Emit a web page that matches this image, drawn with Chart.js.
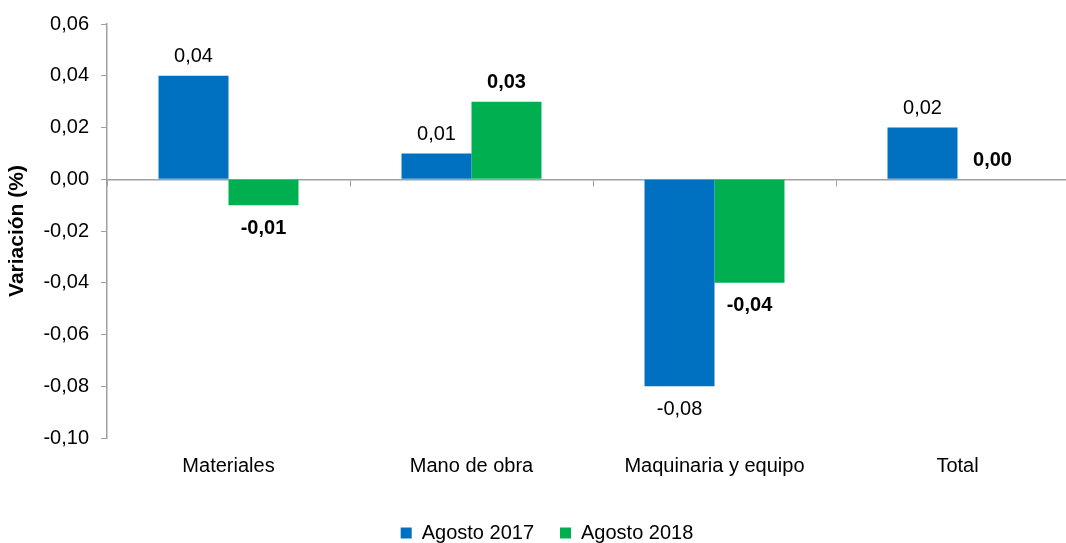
<!DOCTYPE html>
<html>
<head>
<meta charset="utf-8">
<script src="https://cdn.jsdelivr.net/npm/chart.js@4/dist/chart.umd.min.js"></script>
<style>
  html, body { margin: 0; padding: 0; background: #fff; overflow: hidden; }
  #wrap { width: 1094px; height: 553px; }
</style>
</head>
<body>
<div id="wrap"><canvas id="variacionChart"></canvas></div>
<script>
// datos
var categorias = ["Materiales", "Mano de obra", "Maquinaria y equipo", "Total"];
var agosto2017 = [0.04, 0.01, -0.08, 0.02];
var agosto2018 = [-0.01, 0.03, -0.04, 0.00];
var ejeY = { min: -0.10, max: 0.06, paso: 0.02 };

var FONT = "'Liberation Sans', Arial, sans-serif";
var GRIS = "#a0a0a0";

function fmt(v) {
  return v.toFixed(2).replace(".", ",");
}

// etiquetas de valor sobre / bajo cada barra
var etiquetas = {
  id: "etiquetas",
  afterDatasetsDraw: function (chart) {
    let ctx = chart.ctx;
    chart.data.datasets.forEach(function (ds, i) {
      let meta = chart.getDatasetMeta(i);
      ctx.save();
      ctx.font = (i == 1 ? "bold " : "") + "20px " + FONT;
      ctx.fillStyle = "#000";
      ctx.textAlign = "center";
      meta.data.forEach(function (bar, j) {
        let v = ds.data[j];
        if (v >= 0) {
          ctx.textBaseline = "bottom";
          ctx.fillText(fmt(v), bar.x, bar.y - 9);
        } else {
          ctx.textBaseline = "top";
          ctx.fillText(fmt(v), bar.x, bar.y + 13);
        }
      });
      ctx.restore();
    });
  }
};

var chart = new Chart(document.getElementById("variacionChart").getContext("2d"), {
  type: "bar",
  data: {
    labels: categorias,
    datasets: [{
      label: "Agosto 2017",
      data: agosto2017,
      backgroundColor: "#0070C0",
      borderColor: "#0070C0",
      xAxisID: "x"
    }, {
      label: "Agosto 2018",
      data: agosto2018,
      backgroundColor: "#00B050",
      borderColor: "#00B050",
      xAxisID: "x"
    }]
  },
  options: {
    responsive: true,
    maintainAspectRatio: false,
    animation: false,
    datasets: {
      bar: { categoryPercentage: 0.576, barPercentage: 1.0 }
    },
    layout: { padding: { top: 17, right: 15, left: 15, bottom: 0 } },
    plugins: {
      legend: {
        position: "bottom",
        labels: {
          boxWidth: 11,
          boxHeight: 11,
          padding: 26,
          color: "#000",
          font: { family: FONT, size: 20 }
        }
      },
      tooltip: { enabled: false }
    },
    scales: {
      x: {
        type: "category",
        position: { y: 0 },
        ticks: { display: false },
        grid: {
          offset: true,
          drawOnChartArea: false,
          drawTicks: true,
          tickLength: 6,
          color: GRIS
        },
        border: { color: GRIS, width: 1.5 }
      },
      x2: {
        type: "category",
        labels: categorias,
        position: "bottom",
        offset: true,
        grid: { display: false },
        border: { display: false },
        ticks: {
          color: "#000",
          padding: 8,
          font: { family: FONT, size: 20 }
        },
        afterFit: function (scale) { scale.height = 59; }
      },
      y: {
        min: ejeY.min,
        max: ejeY.max,
        ticks: {
          stepSize: ejeY.paso,
          color: "#000",
          padding: 12,
          font: { family: FONT, size: 20 },
          callback: function (v) { return fmt(v); }
        },
        grid: {
          drawOnChartArea: false,
          drawTicks: true,
          tickLength: 6,
          color: GRIS
        },
        border: { color: GRIS, width: 1.5 },
        title: {
          display: true,
          text: "Variación (%)",
          color: "#000",
          font: { family: FONT, size: 21, weight: "bold" },
          padding: { top: -10, bottom: 0 }
        },
        afterFit: function (scale) { scale.width = 92; }
      }
    }
  },
  plugins: [etiquetas]
});
</script>
</body>
</html>
